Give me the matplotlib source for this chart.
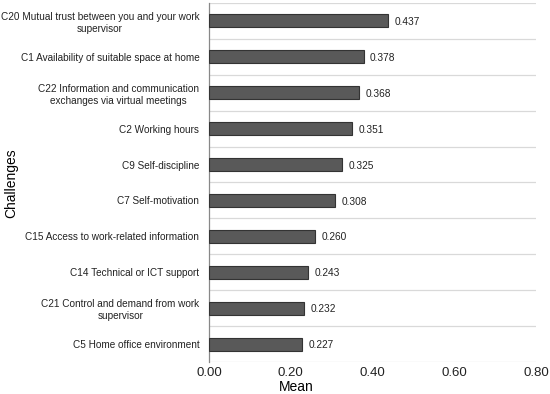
import matplotlib.pyplot as plt

plt.rcParams['font.family'] = ['Liberation Sans', 'DejaVu Sans']

labels = [
    'C20 Mutual trust between you and your work\nsupervisor',
    'C1 Availability of suitable space at home',
    'C22 Information and communication\nexchanges via virtual meetings',
    'C2 Working hours',
    'C9 Self-discipline',
    'C7 Self-motivation',
    'C15 Access to work-related information',
    'C14 Technical or ICT support',
    'C21 Control and demand from work\nsupervisor',
    'C5 Home office environment',
]
means = [0.437, 0.378, 0.368, 0.351, 0.325, 0.308, 0.260, 0.243, 0.232, 0.227]
xticks = [0.0, 0.2, 0.4, 0.6, 0.8]

fig = plt.figure(figsize=(5.5, 3.94), dpi=100)
ax = fig.add_axes([209/550, 1 - 362/394, (536 - 209)/550, 359/394])

n = len(labels)
ypos = list(range(n))
ax.barh(ypos, means, height=0.36, color='#595959', edgecolor='#333333', linewidth=0.8, zorder=3)
for y, v in zip(ypos, means):
    ax.text(v + 0.016, y + 0.03, f'{v:.3f}', va='center', ha='left', fontsize=7.3, color='#222222')

# separator lines between categories
for k in range(n + 1):
    ax.axhline(k - 0.5, color='#d9d9d9', linewidth=0.9, zorder=1)

ax.set_ylim(n - 0.5, -0.5)
ax.set_xlim(0, 0.8)
ax.set_yticks(ypos)
ax.set_yticklabels(labels, fontsize=7.2, color='#222222', linespacing=1.25,
                   multialignment='center')
ax.set_xticks(xticks)
ax.set_xticklabels([f'{t:.2f}' for t in xticks], fontsize=9.5, color='#222222')
ax.tick_params(length=0)
ax.tick_params(axis='y', pad=7)
ax.tick_params(axis='x', pad=3.5)

for s in ['top', 'right', 'bottom']:
    ax.spines[s].set_visible(False)
ax.spines['left'].set_color('#888888')
ax.spines['left'].set_linewidth(0.9)

fig.text(296/550, 1 - 387/394, 'Mean', va='center', ha='center', fontsize=10)
fig.text(11/550, 1 - 183/394, 'Challenges', rotation=90, va='center', ha='center', fontsize=10)

fig.savefig('out.png', dpi=100)
